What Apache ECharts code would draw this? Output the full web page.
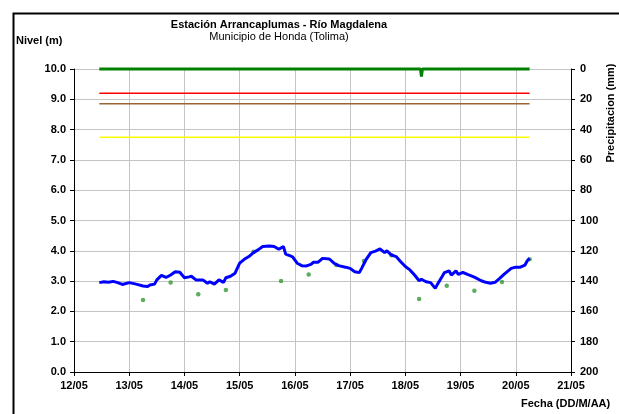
<!DOCTYPE html>
<html>
<head>
<meta charset="utf-8">
<script src="https://cdn.jsdelivr.net/npm/echarts@6/dist/echarts.min.js"></script>
<style>
html,body{margin:0;padding:0;background:#fff;}
#c{width:619px;height:414px;}
</style>
</head>
<body>
<div id="c"></div>
<script>
// x axis tick labels (one per day, hours since 12/05 00:00 = index*24)
const dateLabels = ['12/05','13/05','14/05','15/05','16/05','17/05','18/05','19/05','20/05','21/05'];

// Nivel (m) – continuous record, hours since 12/05 00:00
const nivelHours = [11,13,15,17,19,21,24,27,30,32,33,35,36,38,40,42,44,46,48,50,51,53,56,58,59,61,63,65,66,68,70,72,74,76,78,80,82,85,87,89,91,92,94,95,97,99,101,103,104,106,108,111,113,115,118,120,122,124,125,127,129,131,133,135,136,138,140,142,144,146,148,150,151,153,155,157,158,160,161,163,164,166,167,169,171,174,177,179,181,183,185,187,190,192,194,196,197,198];
const nivelValues = [2.95,2.98,2.96,2.99,2.95,2.89,2.95,2.90,2.84,2.82,2.87,2.90,3.04,3.19,3.12,3.20,3.31,3.29,3.11,3.14,3.16,3.04,3.04,2.93,2.98,2.90,3.04,2.96,3.11,3.16,3.26,3.59,3.72,3.81,3.94,4.03,4.14,4.16,4.14,4.05,4.14,3.89,3.83,3.80,3.59,3.51,3.50,3.55,3.62,3.62,3.75,3.73,3.59,3.51,3.46,3.42,3.31,3.28,3.42,3.72,3.94,3.99,4.06,3.94,4.00,3.86,3.81,3.64,3.48,3.37,3.20,3.01,3.06,2.98,2.95,2.76,2.90,3.15,3.28,3.34,3.20,3.34,3.22,3.29,3.22,3.13,3.01,2.96,2.93,2.96,3.09,3.23,3.42,3.46,3.46,3.53,3.67,3.75];

// Nivel (m) – observed readings (06:00 and 18:00)
const lecturaHours = [30,42,54,66,78,90,102,114,126,138,150,162,174,186,198];
const lecturaValues = [2.38,2.95,2.57,2.71,3.97,3.00,3.22,3.53,3.66,3.85,2.41,2.85,2.68,2.97,3.72];

// Precipitación (mm)
const precipHours = [11,150.6,151,151.4,198];
const precipValues = [0,0,5,0,0];

// Umbrales de alerta (m)
const thresholdHours = [11,198];
const umbralRojo = 9.2;
const umbralNaranja = 8.85;
const umbralAmarillo = 7.75;

const FONT = "'Liberation Sans', Arial, sans-serif";
const zip = (xs, ys) => xs.map((x, i) => [x, ys[i]]);
const flat = (xs, v) => xs.map(x => [x, v]);

const chart = echarts.init(document.getElementById('c'), null, {renderer: 'canvas'});
chart.setOption({
  animation: false,
  backgroundColor: '#ffffff',
  grid: {left: 74, right: 48, top: 69, bottom: 42},
  graphic: [
    {type: 'rect', left: 11, top: 11, shape: {width: 800, height: 600},
     style: {fill: null, stroke: '#000', lineWidth: 2}, z: -1, silent: true},
    {type: 'text', x: 279, y: 25, style: {text: 'Estación Arrancaplumas - Río Magdalena', fontFamily: FONT, fontSize: 11, fontWeight: 'bold', fill: '#000', textAlign: 'center', textVerticalAlign: 'middle'}},
    {type: 'text', x: 279, y: 37, style: {text: 'Municipio de Honda (Tolima)', fontFamily: FONT, fontSize: 11, fill: '#000', textAlign: 'center', textVerticalAlign: 'middle'}},
    {type: 'text', x: 16, y: 41, style: {text: 'Nivel (m)', fontFamily: FONT, fontSize: 11, fontWeight: 'bold', fill: '#000', textAlign: 'left', textVerticalAlign: 'middle'}},
    {type: 'text', x: 611, y: 113, rotation: Math.PI / 2, style: {text: 'Precipitacion (mm)', fontFamily: FONT, fontSize: 11, fontWeight: 'bold', fill: '#000', textAlign: 'center', textVerticalAlign: 'middle'}},
    {type: 'text', x: 521, y: 404, style: {text: 'Fecha (DD/M/AA)', fontFamily: FONT, fontSize: 11, fontWeight: 'bold', fill: '#000', textAlign: 'left', textVerticalAlign: 'middle'}}
  ],
  xAxis: {
    type: 'value', min: 0, max: 216, interval: 24,
    axisLine: {show: true, lineStyle: {color: '#000', width: 1}},
    axisTick: {show: true, inside: false, length: 4, lineStyle: {color: '#000'}},
    axisLabel: {color: '#000', fontFamily: FONT, fontSize: 11, fontWeight: 'bold', margin: 8,
      formatter: v => dateLabels[Math.round(v / 24)] || ''},
    splitLine: {show: true, lineStyle: {color: '#c4c4c4', width: 1}}
  },
  yAxis: [
    {type: 'value', min: 0, max: 10, interval: 1, position: 'left',
     axisLine: {show: true, lineStyle: {color: '#000', width: 1}},
     axisTick: {show: true, inside: false, length: 4, lineStyle: {color: '#000'}},
     axisLabel: {color: '#000', fontFamily: FONT, fontSize: 11, fontWeight: 'bold', margin: 8,
       formatter: v => v.toFixed(1)},
     splitLine: {show: true, lineStyle: {color: '#c4c4c4', width: 1}}},
    {type: 'value', min: 0, max: 200, interval: 20, position: 'right', inverse: true,
     axisLine: {show: true, onZero: false, lineStyle: {color: '#000', width: 1}},
     axisTick: {show: true, inside: false, length: 4, lineStyle: {color: '#000'}},
     axisLabel: {color: '#000', fontFamily: FONT, fontSize: 11, fontWeight: 'bold', margin: 9},
     splitLine: {show: false}}
  ],
  series: [
    {type: 'line', name: 'Rojo', data: flat(thresholdHours, umbralRojo), yAxisIndex: 0, symbol: 'none',
     lineStyle: {color: '#ff0000', width: 1.5}, silent: true},
    {type: 'line', name: 'Naranja', data: flat(thresholdHours, umbralNaranja), yAxisIndex: 0, symbol: 'none',
     lineStyle: {color: '#996633', width: 1.5}, silent: true},
    {type: 'line', name: 'Amarillo', data: flat(thresholdHours, umbralAmarillo), yAxisIndex: 0, symbol: 'none',
     lineStyle: {color: '#ffff00', width: 1.5}, silent: true},
    {type: 'line', name: 'Precipitación', data: zip(precipHours, precipValues), yAxisIndex: 1, symbol: 'none',
     clip: false, lineStyle: {color: '#008000', width: 3}, silent: true},
    {type: 'line', name: 'Nivel', data: zip(nivelHours, nivelValues), yAxisIndex: 0, symbol: 'none',
     lineStyle: {color: '#0000ff', width: 3}, silent: true},
    {type: 'scatter', name: 'Lecturas', data: zip(lecturaHours, lecturaValues), yAxisIndex: 0,
     symbol: 'circle', symbolSize: 4.5, itemStyle: {color: '#339933'}, silent: true}
  ]
});
</script>
</body>
</html>
